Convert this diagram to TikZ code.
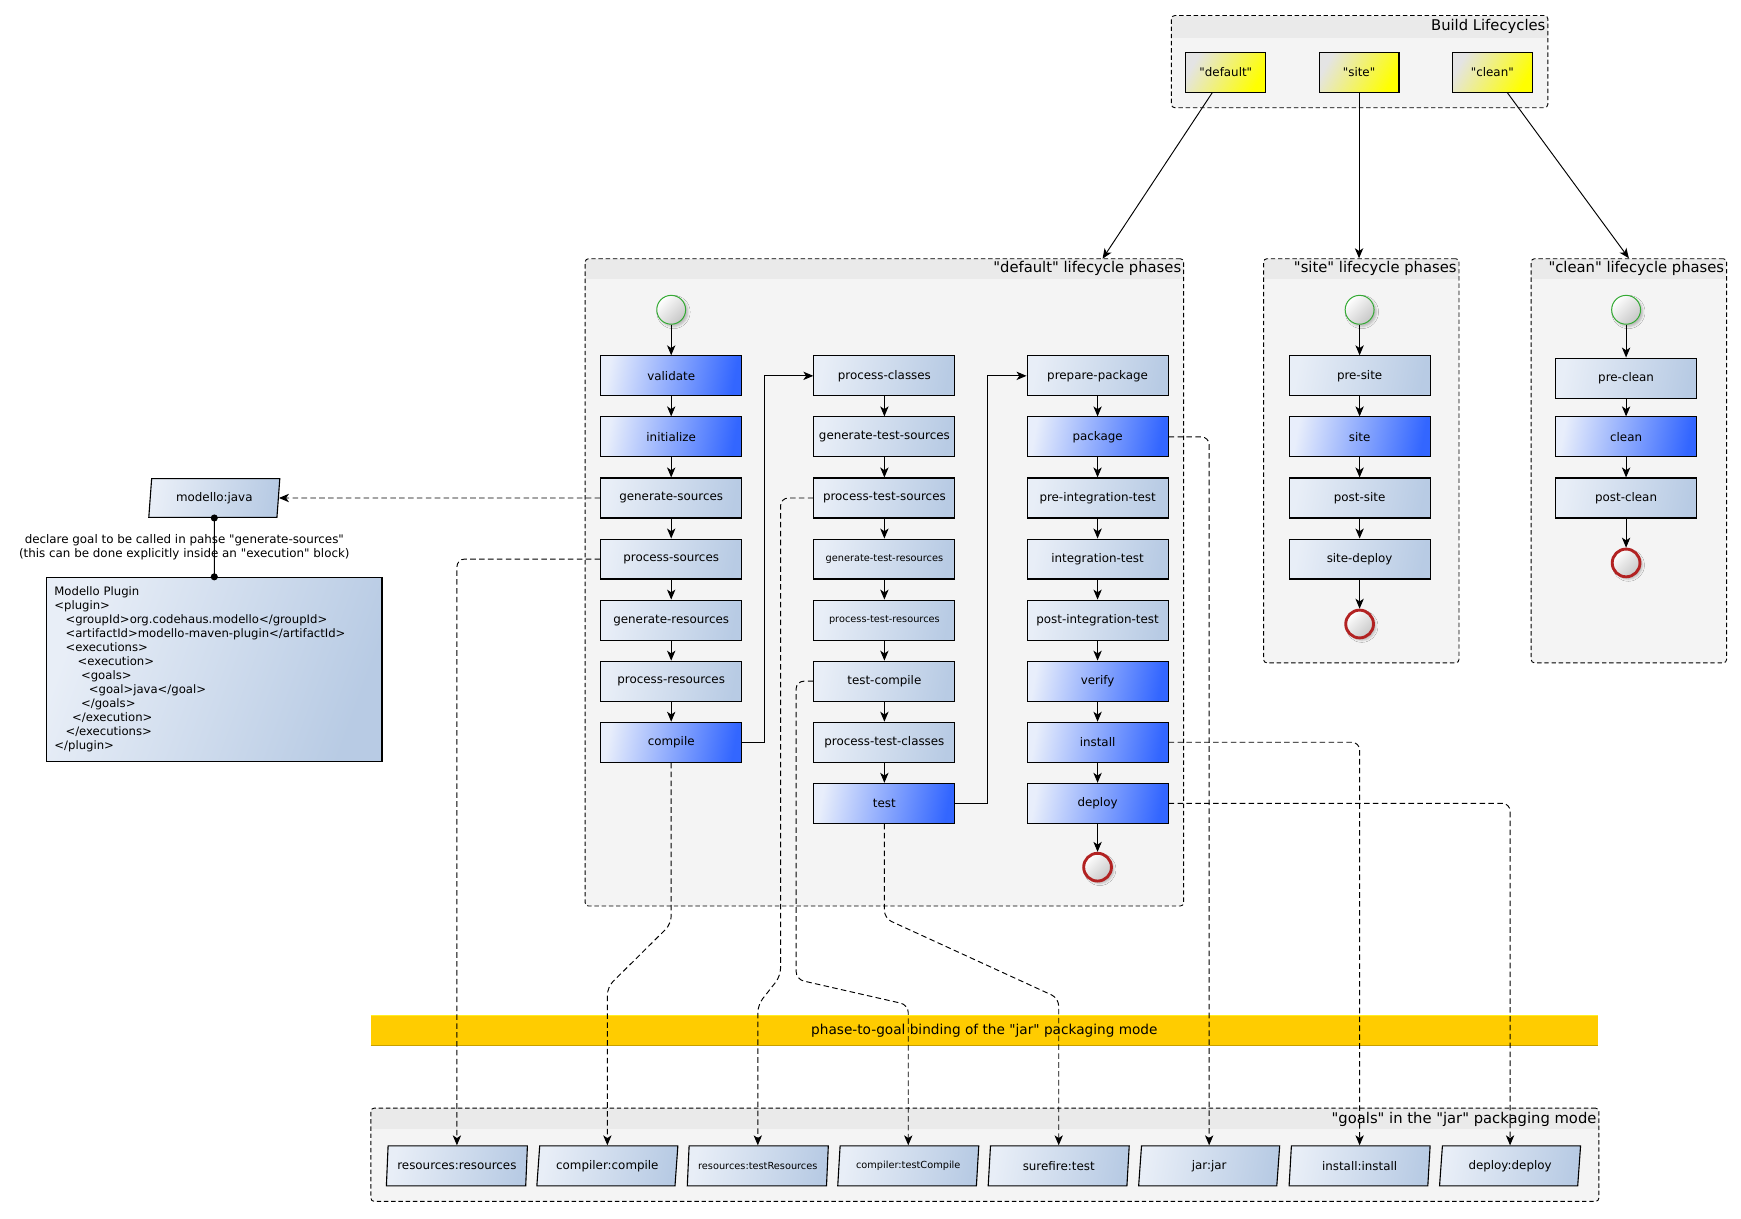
\documentclass[tikz,border=0pt]{standalone}
\usepackage{fontspec}
\setmainfont{DejaVu Sans}[Ligatures=TeXOff]
\usetikzlibrary{arrows.meta,shapes.geometric,shadows.blur}

\definecolor{phaseLeft}{HTML}{E8EEF7}
\definecolor{phaseRight}{HTML}{B8CBE4}
\definecolor{keyLeft}{HTML}{E8EEFB}
\definecolor{keyRight}{HTML}{3366FF}
\definecolor{lcLeft}{HTML}{E4E4E4}
\definecolor{lcRight}{HTML}{FFFF00}
\definecolor{groupFill}{HTML}{F4F4F4}
\definecolor{groupHead}{HTML}{EAEAEA}
\definecolor{startGreen}{HTML}{33AA33}
\definecolor{endRed}{HTML}{B22222}
\definecolor{bandFill}{HTML}{FFCC00}
\definecolor{bandTop}{HTML}{FFEE22}
\definecolor{bandBottom}{HTML}{C8A000}

\newcommand\fsize[2]{\fontsize{#1}{#2}\selectfont}

\begin{document}
\begin{tikzpicture}[x=1pt,y=-1pt,
  font=\fsize{10.7}{12.8},
  arr/.style={-{Stealth[length=9pt,width=7.5pt,inset=2.5pt]}, line width=0.85pt},
  dlink/.style={arr, dash pattern=on 5pt off 3pt, rounded corners=7pt},
  phase/.style={draw, line width=1pt, minimum width=127pt, minimum height=36pt, inner sep=0pt,
    left color=phaseLeft, right color=phaseRight, shading angle=80},
  keyphase/.style={phase, left color=keyLeft, right color=keyRight, shading angle=80},
  small/.style={font=\fsize{8.8}{10.5}},
  lcbox/.style={draw, line width=1pt, minimum width=72pt, minimum height=36pt, inner sep=0pt,
    left color=lcLeft, right color=lcRight, shading angle=60},
  goal/.style={trapezium, trapezium left angle=76, trapezium right angle=104,
    trapezium stretches body, draw, line width=1pt, minimum width=127pt, minimum height=36pt,
    inner sep=0pt, left color=phaseLeft, right color=phaseRight, shading angle=80},
  grp/.style={draw, line width=0.8pt, dash pattern=on 4pt off 2.5pt, fill=groupFill,
    rounded corners=3pt, inner sep=0pt,
    path picture={\fill[groupHead, sharp corners] (path picture bounding box.north west)
      rectangle ([yshift=-#1]path picture bounding box.north east);}},
  grptitle/.style={anchor=east, inner sep=0pt, font=\fsize{13.3}{16}},
  startev/.style={circle, minimum size=26pt, inner sep=0pt, draw=startGreen, line width=0.9pt,
    left color=white, right color=black!22, shading angle=45,
    blur shadow={shadow xshift=2pt, shadow yshift=-2pt, shadow blur radius=2pt, shadow opacity=25}},
  endev/.style={startev, draw=endRed, line width=2.6pt, minimum size=25pt},
]
\useasboundingbox (0,0) rectangle (1568,1097);

% ---------- containers ----------
\node[grp=20pt, minimum width=339pt, minimum height=83pt] (gbuild) at (1224.5,55.5) {};
\node[grptitle] (tbuild) at (1392,24) {Build Lifecycles};
\node[grp=18pt, minimum width=539pt, minimum height=583pt] (gdefault) at (796.5,524.5) {};
\node[grptitle] (tdefault) at (1064,242) {"default" lifecycle phases};
\node[grp=18pt, minimum width=176pt, minimum height=364pt] (gsite) at (1226,415) {};
\node[grptitle] (tsite) at (1312,242) {"site" lifecycle phases};
\node[grp=18pt, minimum width=176pt, minimum height=364pt] (gclean) at (1467,415) {};
\node[grptitle] (tclean) at (1553,242) {"clean" lifecycle phases};
\node[grp=19pt, minimum width=1106pt, minimum height=84pt] (ggoals) at (887,1040) {};
\node[grptitle] (tgoals) at (1438,1008) {"goals" in the "jar" packaging mode};

% ---------- build lifecycles ----------
\node[lcbox] (ldefault) at (1104,65) {"default"};
\node[lcbox] (lsite) at (1224,65) {"site"};
\node[lcbox] (lclean) at (1344,65) {"clean"};
\coordinate (defentry) at (993,233);
\draw[arr] (ldefault) -- (defentry);
\draw[arr] (lsite.south) -- (lsite.south |- gsite.north);
\draw[arr] (lclean) -- (gclean.north);

% ---------- binding band ----------
\node[fill=bandFill, minimum width=1105pt, minimum height=26pt, inner sep=0pt,
  font=\fsize{12.3}{14}] (band) at (886.5,928) {phase-to-goal binding of the "jar" packaging mode};
\draw[bandTop, line width=1pt] (band.north west) -- (band.north east);
\draw[bandBottom, line width=0.8pt] (band.south west) -- (band.south east);

% ---------- default lifecycle ----------
\node[startev] (dstart) at (604.5,279) {};
\node[keyphase] (validate) at (604.5,338.5) {validate};
\node[keyphase] (initialize) at (604.5,393.5) {initialize};
\node[phase] (gensrc) at (604.5,448.5) {generate-sources};
\node[phase] (procsrc) at (604.5,503.5) {process-sources};
\node[phase] (genres) at (604.5,558.5) {generate-resources};
\node[phase] (procres) at (604.5,613.5) {process-resources};
\node[keyphase] (compile) at (604.5,668.5) {compile};
\node[phase] (procclass) at (796.5,338.5) {process-classes};
\node[phase] (gentsrc) at (796.5,393.5) {generate-test-sources};
\node[phase] (proctsrc) at (796.5,448.5) {process-test-sources};
\node[phase, small] (gentres) at (796.5,503.5) {generate-test-resources};
\node[phase, small] (proctres) at (796.5,558.5) {process-test-resources};
\node[phase] (tcompile) at (796.5,613.5) {test-compile};
\node[phase] (proctclass) at (796.5,668.5) {process-test-classes};
\node[keyphase] (test) at (796.5,723.5) {test};
\node[phase] (prepkg) at (988.5,338.5) {prepare-package};
\node[keyphase] (package) at (988.5,393.5) {package};
\node[phase] (preit) at (988.5,448.5) {pre-integration-test};
\node[phase] (intest) at (988.5,503.5) {integration-test};
\node[phase] (postit) at (988.5,558.5) {post-integration-test};
\node[keyphase] (verify) at (988.5,613.5) {verify};
\node[keyphase] (install) at (988.5,668.5) {install};
\node[keyphase] (deploy) at (988.5,723.5) {deploy};
\node[endev] (dend) at (988.5,781) {};

\foreach \a/\b in {dstart/validate, validate/initialize, initialize/gensrc, gensrc/procsrc,
  procsrc/genres, genres/procres, procres/compile, procclass/gentsrc, gentsrc/proctsrc,
  proctsrc/gentres, gentres/proctres, proctres/tcompile, tcompile/proctclass, proctclass/test,
  prepkg/package, package/preit, preit/intest, intest/postit, postit/verify, verify/install,
  install/deploy, deploy/dend}
  \draw[arr] (\a) -- (\b);
\draw[arr] (compile.east) -- ++(20,0) |- (procclass.west);
\draw[arr] (test.east) -- ++(29,0) |- (prepkg.west);

% ---------- site lifecycle ----------
\node[startev] (sstart) at (1224.5,279) {};
\node[phase] (presite) at (1224.5,338.5) {pre-site};
\node[keyphase] (site) at (1224.5,393.5) {site};
\node[phase] (postsite) at (1224.5,448.5) {post-site};
\node[phase] (sitedeploy) at (1224.5,503.5) {site-deploy};
\node[endev] (send) at (1224.5,562) {};
\foreach \a/\b in {sstart/presite, presite/site, site/postsite, postsite/sitedeploy, sitedeploy/send}
  \draw[arr] (\a) -- (\b);

% ---------- clean lifecycle ----------
\node[startev] (cstart) at (1464.5,279) {};
\node[phase] (preclean) at (1464.5,340.5) {pre-clean};
\node[keyphase] (clean) at (1464.5,393.5) {clean};
\node[phase] (postclean) at (1464.5,448.5) {post-clean};
\node[endev] (cend) at (1464.5,507) {};
\foreach \a/\b in {cstart/preclean, preclean/clean, clean/postclean, postclean/cend}
  \draw[arr] (\a) -- (\b);

% ---------- modello plugin ----------
\node[goal, minimum width=118pt, minimum height=35pt] (modello) at (193,448.5) {modello:java};
\node[align=center, inner sep=0pt] (note) at (166,492.5)
  {declare goal to be called in pahse "generate-sources"\\(this can be done explicitly inside an "execution" block)};
\node[draw, line width=1pt, left color=phaseLeft, right color=phaseRight, shading angle=70,
  minimum width=302pt, minimum height=166pt, text width=288pt, inner xsep=7pt, inner ysep=0pt,
  align=left, font=\fsize{10.5}{12.64}] (plugin) at (193,603) {%
Modello Plugin\\
<plugin>\\
\hspace*{10pt}<groupId>org.codehaus.modello</groupId>\\
\hspace*{10pt}<artifactId>modello-maven-plugin</artifactId>\\
\hspace*{10pt}<executions>\\
\hspace*{21pt}<execution>\\
\hspace*{24pt}<goals>\\
\hspace*{31pt}<goal>java</goal>\\
\hspace*{24pt}</goals>\\
\hspace*{16pt}</execution>\\
\hspace*{10pt}</executions>\\
</plugin>};
\draw[dlink] (gensrc.west) -- (modello.east);
\draw[line width=0.85pt] (modello.south) -- (plugin.north);
\fill (modello.south) circle (3.2pt) (plugin.north) circle (3.2pt);

% ---------- goals ----------
\node[goal] (gres) at (411.5,1050) {resources:resources};
\node[goal] (gcomp) at (547,1050) {compiler:compile};
\node[goal, small] (gtres) at (682.5,1050) {resources:testResources};
\node[goal, small] (gtcomp) at (818,1050) {compiler:testCompile};
\node[goal] (gsure) at (953.5,1050) {surefire:test};
\node[goal] (gjar) at (1089,1050) {jar:jar};
\node[goal] (ginst) at (1224.5,1050) {install:install};
\node[goal] (gdepl) at (1360,1050) {deploy:deploy};

% ---------- phase-to-goal bindings ----------
\draw[dlink] (procsrc.west) -| (gres.north);
\draw[dlink] (compile.south) -- (compile.south |- 0,832) -- (gcomp.north |- 0,889) -- (gcomp.north);
\draw[dlink] (proctsrc.west) -- (703,448.5) -- (703,879) -- (gtres.north |- 0,905) -- (gtres.north);
\draw[dlink] (tcompile.west) -- (717,613.5) -- (717,882) -- (gtcomp.north |- 0,905) -- (gtcomp.north);
\draw[dlink] (test.south) -- (test.south |- 0,827) -- (gsure.north |- 0,899) -- (gsure.north);
\draw[dlink] (package.east) -| (gjar.north);
\draw[dlink] (install.east) -| (ginst.north);
\draw[dlink] (deploy.east) -| (gdepl.north);
\end{tikzpicture}
\end{document}
